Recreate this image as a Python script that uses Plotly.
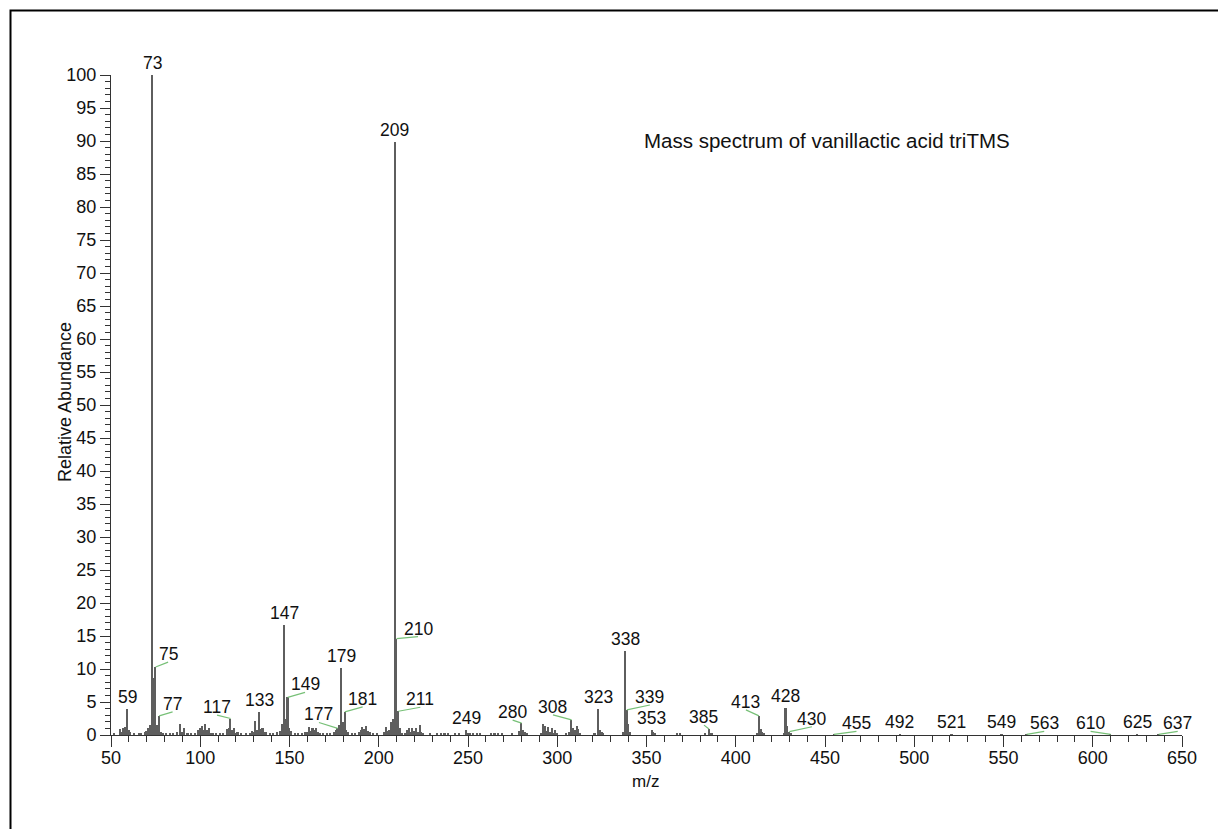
import plotly.graph_objects as go

# ---- spectrum data (m/z, relative abundance) ----
mz = [52, 55, 56, 57, 58, 59, 60, 61, 63, 66, 67, 69, 70, 71, 72, 73, 74, 75, 76, 77, 78, 79,
      81, 83, 85, 87, 89, 90, 91, 93, 95, 97, 99, 100, 101, 102, 103, 104, 105, 106, 107, 109,
      111, 113, 115, 116, 117, 118, 119, 120, 121, 123, 126, 128, 129, 130, 131, 132, 133, 134,
      135, 136, 137, 139, 141, 143, 145, 146, 147, 148, 149, 150, 151, 153, 155, 157, 159, 160,
      161, 162, 163, 164, 165, 166, 167, 169, 171, 173, 175, 176, 177, 178, 179, 180, 181, 182,
      183, 185, 187, 189, 190, 191, 192, 193, 194, 195, 197, 199, 203, 204, 205, 206, 207, 208,
      209, 210, 211, 212, 213, 215, 216, 217, 218, 219, 220, 221, 222, 223, 224, 225, 229, 233,
      235, 237, 239, 243, 245, 249, 250, 251, 253, 255, 257, 263, 265, 267, 269, 275, 279, 280,
      281, 282, 283, 291, 292, 293, 294, 295, 296, 297, 298, 299, 300, 305, 307, 308, 309, 310,
      311, 312, 313, 321, 323, 324, 325, 326, 337, 338, 339, 340, 341, 353, 354, 355, 367, 369,
      383, 385, 386, 387, 412, 413, 414, 415, 416, 427, 428, 429, 430, 431, 455, 492, 521, 549,
      563, 610, 625, 637]
abundance = [0.3, 0.9, 0.5, 1.0, 1.2, 3.9, 0.8, 0.4, 0.2, 0.3, 0.2, 0.4, 0.6, 1.0, 1.5, 100.0, 8.6,
             10.3, 1.5, 2.9, 0.4, 0.3, 0.3, 0.3, 0.3, 0.4, 1.6, 0.4, 1.0, 0.3, 0.3, 0.3, 0.8, 1.0,
             1.3, 0.7, 1.6, 0.8, 1.0, 0.3, 0.3, 0.2, 0.3, 0.3, 0.9, 1.0, 2.5, 0.8, 1.0, 0.3, 0.4,
             0.2, 0.2, 0.3, 0.6, 0.4, 2.1, 0.8, 3.5, 0.9, 1.0, 0.4, 0.5, 0.3, 0.3, 0.4, 0.6, 1.7,
             16.7, 2.5, 5.7, 1.0, 0.6, 0.3, 0.2, 0.3, 0.4, 0.5, 1.2, 0.6, 1.0, 0.8, 1.0, 0.4, 0.3,
             0.3, 0.2, 0.3, 0.4, 0.7, 1.0, 1.5, 10.2, 2.0, 3.5, 0.8, 0.4, 0.2, 0.2, 0.4, 0.8, 1.2,
             0.9, 1.4, 0.6, 0.4, 0.2, 0.2, 0.4, 1.2, 0.6, 0.8, 1.9, 2.5, 89.9, 14.6, 3.6, 1.0, 0.3,
             0.2, 0.8, 1.0, 0.5, 1.1, 0.6, 1.0, 0.5, 1.5, 0.4, 0.3, 0.2, 0.3, 0.2, 0.2, 0.3, 0.2,
             0.2, 0.8, 0.3, 0.2, 0.3, 0.2, 0.2, 0.2, 0.2, 0.3, 0.2, 0.2, 0.6, 1.8, 0.8, 0.4, 0.2,
             0.3, 1.6, 1.3, 0.6, 1.2, 0.5, 1.0, 0.3, 0.7, 0.2, 0.2, 0.5, 2.3, 1.0, 0.8, 1.4, 0.9,
             0.3, 0.2, 3.9, 0.8, 0.5, 0.2, 0.5, 12.8, 3.8, 1.6, 0.5, 0.8, 0.4, 0.2, 0.2, 0.2, 0.2,
             0.9, 0.3, 0.2, 0.3, 2.9, 0.9, 0.5, 0.2, 0.3, 4.1, 1.3, 0.5, 0.2, 0.1, 0.1, 0.1, 0.1,
             0.1, 0.1, 0.1, 0.1]

# labelled peaks
label_mz = [59, 73, 75, 77, 117, 133, 147, 149, 177, 179, 181, 209, 210, 211, 249, 280, 308,
            323, 338, 339, 353, 385, 413, 428, 430, 455, 492, 521, 549, 563, 610, 625, 637]

x_ticks = list(range(50, 651, 50))
y_ticks = list(range(0, 101, 5))

# ---- layout-only: label offsets (m/z units, abundance units) for leader-lined labels ----
label_offsets = {75: (7.0, 0.75), 77: (7.5, 0.6), 117: (-7.6, 0.5), 149: (9.7, 0.75),
                 177: (-10.5, 0.9), 181: (10.0, 0.75), 210: (12.0, 0.3), 211: (12.3, 0.6),
                 280: (-5.0, 0.45), 308: (-10.4, 0.75), 339: (12.9, 0.75), 385: (-2.8, 0.6),
                 413: (-7.3, 0.9), 430: (12.7, 0.75), 455: (12.6, 0.45), 563: (9.8, 0.45),
                 610: (-11.2, 0.45), 637: (10.6, 0.45)}

FONT = "Arial, 'Liberation Sans', sans-serif"
lookup = dict(zip(mz, abundance))

fig = go.Figure()
fig.add_trace(go.Bar(x=mz, y=abundance, width=0.9,
                     marker=dict(color="#5e5e5e", line=dict(width=0)),
                     hoverinfo="x+y", showlegend=False))

# leader lines
lx, ly = [], []
for m in label_mz:
    if m in label_offsets:
        dx, dy = label_offsets[m]
        v = lookup[m]
        lx += [m, m + dx, None]
        ly += [v, v + dy, None]
fig.add_trace(go.Scatter(x=lx, y=ly, mode="lines", line=dict(color="#77c077", width=1.2),
                         hoverinfo="skip", showlegend=False))

annotations = []
for m in label_mz:
    v = lookup[m]
    if m in label_offsets:
        dx, dy = label_offsets[m]
        annotations.append(dict(x=m + dx, y=v + dy, text=str(m), showarrow=False,
                                xanchor="center", yanchor="bottom", yshift=-4,
                                font=dict(family=FONT, size=17.5, color="#111111")))
    else:
        annotations.append(dict(x=m, y=v, text=str(m), showarrow=False,
                                xanchor="center", yanchor="bottom", yshift=0,
                                font=dict(family=FONT, size=17.5, color="#111111")))

annotations.append(dict(text="Mass spectrum of vanillactic acid triTMS", xref="paper", yref="paper",
                        x=0.6685, y=0.9015, xanchor="center", yanchor="middle", showarrow=False,
                        font=dict(family=FONT, size=20.5, color="#111111")))
annotations.append(dict(text="Relative Abundance", xref="paper", yref="paper",
                        x=(65 - 111) / 1071, y=0.5045, xanchor="center", yanchor="middle",
                        textangle=-90, showarrow=False,
                        font=dict(family=FONT, size=18, color="#111111")))
annotations.append(dict(text="m/z", xref="paper", yref="paper",
                        x=0.4986, y=-0.0697, xanchor="center", yanchor="middle", showarrow=False,
                        font=dict(family=FONT, size=17, color="#111111")))

fig.update_layout(
    width=1218, height=829,
    margin=dict(l=111, r=36, t=75, b=94),
    paper_bgcolor="white", plot_bgcolor="white",
    bargap=0,
    annotations=annotations,
    shapes=[dict(type="rect", xref="paper", yref="paper",
                 x0=(10.5 - 111) / 1071, x1=1.2, y0=-0.3, y1=(735 - 10.5) / 660,
                 line=dict(color="black", width=2), fillcolor="rgba(0,0,0,0)", layer="above")],
    xaxis=dict(range=[50, 650], tickvals=x_ticks, ticktext=[str(t) for t in x_ticks],
               ticks="outside", ticklen=11, tickcolor="#333333", tickwidth=1,
               minor=dict(dtick=10, tick0=50, ticks="outside", ticklen=6, tickcolor="#333333"),
               showline=True, linecolor="#333333", linewidth=1, showgrid=False, zeroline=False,
               tickfont=dict(family=FONT, size=18, color="#111111")),
    yaxis=dict(range=[0, 100], tickvals=y_ticks, ticktext=[str(t) for t in y_ticks],
               ticks="outside", ticklen=10, tickcolor="#333333", tickwidth=1,
               minor=dict(dtick=1, tick0=0, ticks="outside", ticklen=5, tickcolor="#333333"),
               showline=True, linecolor="#333333", linewidth=1, showgrid=False, zeroline=False,
               tickfont=dict(family=FONT, size=18, color="#111111")),
)

# pull x tick labels a little closer to the axis, if supported
try:
    fig.update_xaxes(ticklabelstandoff=-5)
except Exception:
    pass

fig.write_html("out.html")
